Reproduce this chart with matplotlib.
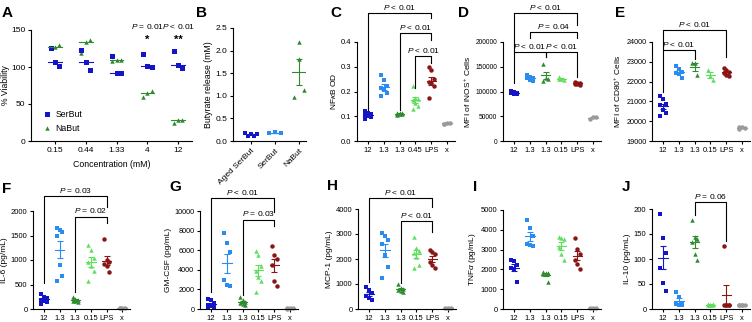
"""
Butyrate panels A-J: viability, release and cytokine scatter plots
"""
import matplotlib
matplotlib.use("Agg")
import matplotlib.pyplot as plt
import numpy as np

matplotlib.rcParams.update({
    'font.family': 'Liberation Sans',
    'font.size': 5.5,
    'mathtext.fontset': 'custom',
    'mathtext.it': 'Liberation Sans:italic',
    'mathtext.rm': 'Liberation Sans',
    'axes.linewidth': 0.8,
    'xtick.labelsize': 5.5,
    'ytick.labelsize': 5.5,
    'xtick.major.size': 2.5,
    'ytick.major.size': 2.5,
    'xtick.major.width': 0.8,
    'ytick.major.width': 0.8,
    'xtick.major.pad': 2,
    'ytick.major.pad': 1.5,
})

# ---- data ----
conc_labels = ['0.15', '0.44', '1.33', '4', '12']
serbut_viab = [[101, 107, 125], [96, 107, 123], [92, 92, 115], [100, 101, 118], [99, 103, 122]]
nabut_viab = [[126, 127, 130], [119, 134, 136], [108, 109, 110], [60, 65, 67], [25, 29, 29]]

release_labels = ['Aged SerBut', 'SerBut', 'NaBut']
aged_release = [0.17, 0.12, 0.16, 0.12, 0.16]
serbut_release = [0.18, 0.19, 0.18]
nabut_release = [2.18, 1.81, 0.97, 1.12]

group_labels = ['12', '1.3', '1.3', '0.15', 'LPS', 'x']
group_labels_c = ['12', '1.3', '1.3', '0.45', 'LPS', 'x']

nfkb = [[0.12, 0.115, 0.11, 0.105, 0.10, 0.095, 0.09],
        [0.268, 0.247, 0.223, 0.216, 0.207, 0.193, 0.18],
        [0.115, 0.112, 0.11, 0.108, 0.11, 0.112, 0.106],
        [0.223, 0.175, 0.17, 0.165, 0.155, 0.14, 0.13],
        [0.297, 0.285, 0.251, 0.24, 0.234, 0.224, 0.173],
        [0.07, 0.072, 0.071, 0.07]]
inos = [[101000, 99000, 97000, 96000, 95000, 94000],
        [134000, 130000, 128000, 127000, 124000, 121000],
        [155000, 128000, 126000, 122000],
        [130000, 126000, 124000, 125000],
        [119000, 118000, 117000, 116000, 115000, 114000],
        [44000, 48000, 49000]]
cd80 = [[21250, 21100, 20850, 20800, 20550, 20400, 20250],
        [22800, 22650, 22500, 22450, 22400, 22200],
        [22950, 22930, 22350],
        [22600, 22300, 22100],
        [22680, 22600, 22510, 22430, 22345, 22260],
        [19600, 19700, 19650, 19700]]
il6 = [[310, 250, 220, 190, 170, 140, 100],
       [1650, 1620, 1580, 1500, 900, 680, 570],
       [250, 200, 180, 170, 160, 150],
       [1300, 1200, 1050, 950, 870, 770, 570],
       [1420, 1000, 950, 910, 880, 750],
       [20, 20, 15, 25]]
gmcsf = [[1000, 900, 600, 400, 300, 200, 150],
         [7800, 6700, 5800, 2950, 2500, 2350],
         [1200, 900, 750, 650, 550, 400],
         [5900, 5500, 4400, 3900, 3300, 2900, 1750],
         [6400, 5500, 5100, 4500, 2850, 2350],
         [50, 80, 60, 70]]
mcp1 = [[900, 760, 630, 520, 430, 360],
        [3030, 2930, 2760, 2590, 2160, 1690, 1230],
        [1020, 850, 800, 760, 720, 670],
        [2890, 2450, 2320, 2230, 2090, 1760, 1650],
        [2360, 2270, 2190, 1890, 1760, 1630],
        [50, 60, 40]]
tnfa = [[2500, 2400, 2200, 2050, 2000, 1380],
        [4500, 4100, 3700, 3300, 3250, 3200],
        [1850, 1820, 1800, 1780, 1750, 1380],
        [3650, 3600, 3550, 3150, 2800, 2450],
        [3600, 3030, 2760, 2500, 2250, 2000],
        [30, 50, 40]]
il10 = [[190, 143, 112, 82, 53, 37],
        [35, 25, 12, 10, 9, 9],
        [179, 145, 140, 134, 110, 98],
        [10, 9, 8, 9, 8, 10],
        [126, 8, 8, 8, 8, 8],
        [9, 9, 9, 9, 9]]

COLORS = ['#1414c8', '#2a8cf0', '#2e8b2e', '#5ee05e', '#8b1414', '#9a9a9a']
MARKERS = ['s', 's', '^', '^', 'o', 'o']

W, H = 752, 322
fig = plt.figure(figsize=(W / 100, H / 100), dpi=100)


def px_axes(left, top, right, bottom):
    ax = fig.add_axes([left / W, 1 - bottom / H, (right - left) / W, (bottom - top) / H])
    ax.spines['top'].set_visible(False)
    ax.spines['right'].set_visible(False)
    return ax


def spread(n, w=0.17):
    return (np.arange(n) % 3 - 1) * w


def panel_letter(x, y, s):
    fig.text(x / W, 1 - y / H, s, fontsize=11, fontweight='bold', ha='left', va='center')


def bracket(ax, i, j, y, yl, yr, label):
    ax.plot([i, i, j, j], [yl, y, y, yr], color='k', lw=0.8, clip_on=False)
    ax.annotate(label, ((i + j) / 2, y), xytext=(0, 1), textcoords='offset points',
                ha='center', va='bottom', fontsize=6, annotation_clip=False)


def dot_panel(ax, groups, labels, ylabel, yticks, fmt=None, ytick_size=5.5):
    for k, vals in enumerate(groups):
        vals = np.asarray(vals, dtype=float)
        n = len(vals)
        ax.plot(k + spread(n), vals, ls='none', marker=MARKERS[k], color=COLORS[k],
                ms=3.2, mew=0, clip_on=False)
        m = vals.mean()
        sem = vals.std(ddof=1) / np.sqrt(n)
        ax.plot([k - 0.3, k + 0.3], [m, m], color=COLORS[k], lw=0.8)
        ax.errorbar(k, m, yerr=sem, color=COLORS[k], capsize=2, lw=0.8, capthick=0.8)
    ax.set_xlim(-0.7, 5.5)
    ax.set_ylim(yticks[0], yticks[-1])
    ax.spines['left'].set_bounds(yticks[0], yticks[-1])
    ax.set_yticks(yticks)
    if fmt:
        ax.set_yticklabels([fmt % t for t in yticks])
    ax.tick_params(axis='y', labelsize=ytick_size)
    ax.set_xticks(range(len(labels)))
    ax.set_xticklabels(labels)
    ax.set_ylabel(ylabel, fontsize=6, labelpad=2)


# ---- A ----
axA = px_axes(31, 30, 192, 141)
for k in range(len(conc_labels)):
    sv = np.asarray(serbut_viab[k])
    nv = np.asarray(nabut_viab[k])
    axA.plot(k + spread(3, 0.14), nv, ls='none', marker='^', color='#2e8b2e', ms=3.2, mew=0,
             label='NaBut' if k == 0 else None)
    axA.plot(k + spread(3, 0.14)[::-1], sv, ls='none', marker='s', color='#1414c8', ms=3.6, mew=0,
             label='SerBut' if k == 0 else None)
    axA.plot([k - 0.22, k + 0.22], [np.median(sv)] * 2, color='#1414c8', lw=0.8)
    axA.plot([k - 0.22, k + 0.22], [np.median(nv)] * 2, color='#2e8b2e', lw=0.8)
axA.set_xlim(-0.78, 4.45)
axA.set_ylim(0, 150)
axA.spines['left'].set_bounds(0, 150)
axA.set_yticks([0, 50, 100, 150])
axA.set_xticks(range(len(conc_labels)))
axA.set_xticklabels(conc_labels, fontsize=6)
axA.tick_params(axis='y', labelsize=6)
axA.set_ylabel('% Viability', fontsize=6.2)
axA.yaxis.set_label_coords(-0.13, 0.5)
axA.set_xlabel('Concentration (mM)', fontsize=6.3, labelpad=4)
h, l = axA.get_legend_handles_labels()
axA.legend(h[::-1], l[::-1], loc='lower left', bbox_to_anchor=(0.02, 0.0), frameon=False,
           fontsize=6.3, handletextpad=0.3, handlelength=1.2, labelspacing=0.6)
for k, p, star in [(3, r'$P$ = 0.01', '*'), (4, r'$P$ < 0.01', '**')]:
    axA.text(k, 155, p, ha='center', va='center', fontsize=6, clip_on=False)
    axA.text(k, 137, star, ha='center', va='center', fontsize=8, fontweight='bold')

# ---- B ----
axB = px_axes(233, 28, 306, 141)
for k, (vals, c, mk) in enumerate([(aged_release, '#1414c8', 's'),
                                   (serbut_release, '#2a8cf0', 's'),
                                   (nabut_release, '#2e8b2e', '^')]):
    vals = np.asarray(vals)
    n = len(vals)
    off = np.linspace(-0.25, 0.25, n) if n > 1 else np.zeros(1)
    if k == 2:
        off = np.array([0.0, 0.0, -0.2, 0.2])
    axB.plot(k + off, vals, ls='none', marker=mk, color=c, ms=3.2, mew=0)
    m = vals.mean()
    sem = vals.std(ddof=1) / np.sqrt(n)
    axB.plot([k - 0.3, k + 0.3], [m, m], color=c, lw=0.8)
    axB.errorbar(k, m, yerr=sem, color=c, capsize=2, lw=0.8, capthick=0.8)
axB.set_xlim(-0.75, 2.3)
axB.set_ylim(0, 2.5)
axB.spines['left'].set_bounds(0, 2.5)
axB.set_yticks(np.arange(0, 2.51, 0.5))
axB.set_yticklabels(['%.1f' % t for t in np.arange(0, 2.51, 0.5)])
axB.tick_params(labelsize=6)
axB.set_xticks(range(3))
axB.set_xticklabels(release_labels, rotation=45, ha='right', rotation_mode='anchor')
axB.set_ylabel('Butyrate release (mM)', fontsize=6.3, labelpad=2)

# ---- C ----
axC = px_axes(357, 42, 455, 141)
dot_panel(axC, nfkb, group_labels_c, r'NF$\kappa$B OD', [0, 0.1, 0.2, 0.3, 0.4], '%.1f')
bracket(axC, 0, 4, 0.517, 0.125, 0.497, r'$P$ < 0.01')
bracket(axC, 2, 4, 0.436, 0.125, 0.41, r'$P$ < 0.01')
bracket(axC, 3, 4, 0.343, 0.214, 0.315, r'$P$ < 0.01')

# ---- D ----
axD = px_axes(503, 42, 601, 141)
dot_panel(axD, inos, group_labels, r'MFI of iNOS$^{+}$ Cells',
          [0, 50000, 100000, 150000, 200000], ytick_size=4.8)
bracket(axD, 0, 4, 258000, 180000, 234000, r'$P$ < 0.01')
bracket(axD, 1, 4, 220000, 208000, 208000, r'$P$ = 0.04')
bracket(axD, 0, 2, 180000, 117000, 170000, r'$P$ < 0.01')
bracket(axD, 2, 4, 180000, 170000, 129000, r'$P$ < 0.01')

# ---- E ----
axE = px_axes(652, 42, 750, 141)
dot_panel(axE, cd80, group_labels, r'MFI of CD80$^{+}$ Cells',
          [19000, 20000, 21000, 22000, 23000, 24000], ytick_size=5.2)
bracket(axE, 0, 4, 24600, 23600, 23240, r'$P$ < 0.01')
bracket(axE, 0, 2, 23600, 21475, 23140, r'$P$ < 0.01')

# ---- F ----
axF = px_axes(33, 211, 130, 309)
dot_panel(axF, il6, group_labels, 'IL-6 (pg/mL)', [0, 500, 1000, 1500, 2000])
bracket(axF, 0, 4, 2306, 530, 2080, r'$P$ = 0.03')
bracket(axF, 2, 4, 1880, 350, 1750, r'$P$ = 0.02')

# ---- G ----
axG = px_axes(200, 211, 298, 309)
dot_panel(axG, gmcsf, group_labels, 'GM-CSF (pg/mL)', [0, 2000, 4000, 6000, 8000, 10000],
          ytick_size=5.2)
bracket(axG, 0, 4, 11330, 1735, 9900, r'$P$ < 0.01')
bracket(axG, 2, 4, 9100, 1430, 8470, r'$P$ = 0.03')

# ---- H ----
axH = px_axes(358, 209, 456, 309)
dot_panel(axH, mcp1, group_labels, 'MCP-1 (pg/mL)', [0, 1000, 2000, 3000, 4000])
bracket(axH, 0, 4, 4440, 1080, 4080, r'$P$ < 0.01')
bracket(axH, 2, 4, 3520, 1040, 3080, r'$P$ < 0.01')

# ---- I ----
axI = px_axes(503, 210, 601, 309)
dot_panel(axI, tnfa, group_labels, r'TNF$\alpha$ (pg/mL)', [0, 1000, 2000, 3000, 4000, 5000])

# ---- J ----
axJ = px_axes(652, 209, 750, 309)
dot_panel(axJ, il10, group_labels, 'IL-10 (pg/mL)', [0, 50, 100, 150, 200])
bracket(axJ, 2, 4, 214, 188, 136, r'$P$ = 0.06')

for x, y, s in [(2, 13, 'A'), (196, 13, 'B'), (330, 13, 'C'), (458, 13, 'D'), (615, 13, 'E'),
                (2, 189, 'F'), (169, 187, 'G'), (327, 186, 'H'), (473, 187, 'I'), (622, 187, 'J')]:
    panel_letter(x, y, s)

fig.savefig('out.png', dpi=100)
